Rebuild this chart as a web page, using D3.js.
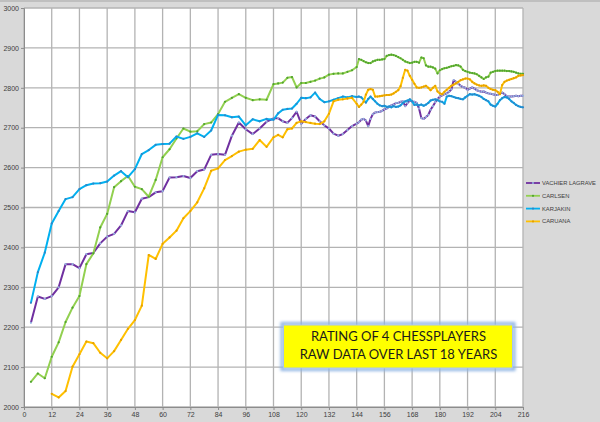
<!DOCTYPE html>
<html>
<head>
<meta charset="utf-8">
<script src="https://cdn.jsdelivr.net/npm/d3@7"></script>
<style>
    html, body { margin: 0; padding: 0; background: #d9d9d9; }
    svg { display: block; }
    .tick-label { font-family: "Liberation Sans", Arial, sans-serif; font-size: 7px; fill: #404040; }
    .legend-label { font-family: "Liberation Sans", Arial, sans-serif; font-size: 5.8px; fill: #404040; }
    .title-text { font-family: Lato, "Open Sans", sans-serif; font-size: 13px; fill: #1a1a1a; }
</style>
</head>
<body>
<div id="chart"></div>
<script>
// months since start (quarterly lists, then bi-monthly, then monthly)
const months = [
    3, 6, 9, 12, 15, 18, 21, 24, 27, 30, 33, 36, 39, 42, 45, 48, 51, 54,
    57, 60, 63, 66, 69, 72, 75, 78, 81, 84, 87, 90, 93, 96, 99, 102, 105, 108,
    110, 112, 114, 116, 118, 120, 122, 124, 126, 128, 130, 132, 134, 136, 138, 140, 142, 144,
    145, 146, 147, 148, 149, 150, 151, 152, 153, 154,
    155, 156, 157, 158, 159, 160, 161, 162, 163, 164,
    165, 166, 167, 168, 169, 170, 171, 172, 173, 174,
    175, 176, 177, 178, 179, 180, 181, 182, 183, 184,
    185, 186, 187, 188, 189, 190, 191, 192, 193, 194,
    195, 196, 197, 198, 199, 200, 201, 202, 203, 204,
    205, 206, 207, 208, 209, 210, 211, 212, 213, 214,
    215, 216
];

const vachierLagrave = [
    2211, 2277, 2271, 2278, 2300, 2358, 2358, 2348, 2383, 2386, 2410, 2427, 2434, 2455, 2491, 2488, 2522, 2526,
    2538, 2541, 2575, 2576, 2579, 2574, 2591, 2595, 2632, 2634, 2632, 2680, 2713, 2696, 2684, 2698, 2715, 2723,
    2724, 2716, 2712, 2724, 2740, 2710, 2722, 2731, 2728, 2716, 2706, 2698, 2685, 2680, 2684, 2694, 2704, 2710,
    2714, 2720, 2722, 2718, 2704, 2722, 2734, 2738, 2739, 2740,
    2742, 2746, 2748, 2752, 2756, 2758, 2762, 2762, 2765, 2766,
    2754, 2762, 2768, 2766, 2765, 2762, 2748, 2724, 2722, 2727,
    2732, 2745, 2754, 2764, 2772, 2778, 2781, 2784, 2786, 2790,
    2796, 2819, 2815, 2810, 2805, 2802, 2800, 2795, 2798, 2801,
    2798, 2794, 2792, 2790, 2791, 2788, 2786, 2785, 2784, 2782,
    2782, 2786, 2788, 2784, 2779, 2778, 2778, 2779, 2780, 2779,
    2780, 2780
];

const carlsen = [
    2063, 2084, 2072, 2126, 2162, 2213, 2249, 2278, 2358, 2385, 2450, 2484, 2551, 2566, 2579, 2552, 2546, 2527,
    2569, 2626, 2646, 2673, 2698, 2690, 2691, 2709, 2713, 2734, 2765, 2775, 2784, 2775, 2769, 2771, 2770, 2809,
    2811, 2813, 2825, 2827, 2801, 2812, 2812, 2815, 2818, 2823, 2826, 2833, 2835, 2836, 2836, 2840, 2844, 2852,
    2872, 2870, 2867, 2864, 2862, 2862, 2866, 2868, 2870, 2870,
    2871, 2872, 2880, 2882, 2883, 2882, 2880, 2877, 2874, 2870,
    2866, 2864, 2862, 2863, 2865, 2865, 2863, 2876, 2874, 2856,
    2853, 2853, 2851, 2848, 2836, 2844, 2847, 2849, 2850, 2852,
    2854, 2855, 2857, 2856, 2853, 2845, 2842, 2840, 2838, 2837,
    2836, 2834, 2830, 2826, 2822, 2826, 2828, 2838, 2840, 2842,
    2843, 2843, 2843, 2843, 2842, 2842, 2841, 2840, 2838, 2836,
    2835, 2835
];

const karjakin = [
    2261, 2338, 2387, 2460, 2491, 2521, 2526, 2546, 2556, 2560, 2561, 2565, 2580, 2591, 2576, 2596, 2634, 2644,
    2657, 2659, 2660, 2678, 2672, 2677, 2686, 2677, 2693, 2732, 2731, 2726, 2728, 2706, 2721, 2716, 2722, 2720,
    2736, 2745, 2747, 2748, 2760, 2775, 2774, 2776, 2788, 2772, 2764, 2766, 2770, 2774, 2778, 2776, 2779, 2777,
    2778, 2776, 2770, 2763, 2772, 2778, 2772, 2766, 2760, 2756,
    2754, 2755, 2752, 2753, 2751, 2754, 2752, 2753, 2756, 2762,
    2766, 2768, 2771, 2766, 2757, 2758, 2756, 2758, 2755, 2758,
    2762, 2768, 2770, 2771, 2769, 2766, 2765, 2760, 2778, 2780,
    2779, 2777, 2775, 2774, 2772, 2771, 2776, 2780, 2784, 2783,
    2784, 2782, 2780, 2777, 2772, 2769, 2766, 2758, 2755, 2753,
    2760, 2769, 2774, 2777, 2776, 2772, 2766, 2762, 2757, 2754,
    2752, 2751
];

const caruana = [
    null, null, null, 2033, 2024, 2040, 2101, 2132, 2164, 2160, 2136, 2122, 2140, 2168, 2196, 2218, 2254, 2381,
    2371, 2409, 2425, 2442, 2473, 2491, 2513, 2548, 2592, 2598, 2619, 2629, 2640, 2645, 2647, 2669, 2652, 2676,
    2682, 2676, 2696, 2698, 2712, 2716, 2714, 2712, 2710, 2709, 2716, 2735, 2766, 2770, 2771, 2773, 2775, 2760,
    2752, 2758, 2765, 2783, 2795, 2797, 2795, 2778, 2778, 2779,
    2780, 2781, 2782, 2782, 2783, 2786, 2790, 2794, 2804, 2825,
    2845, 2843, 2830, 2820, 2810, 2801, 2800, 2801, 2803, 2805,
    2800, 2794, 2800, 2805, 2791, 2786, 2784, 2790, 2795, 2800,
    2805, 2808, 2811, 2815, 2819, 2821, 2823, 2823, 2821, 2815,
    2811, 2808, 2806, 2805, 2806, 2805, 2800, 2797, 2795, 2794,
    2790, 2784, 2807, 2815, 2818, 2820, 2822, 2824, 2826, 2830,
    2831, 2832
];

const xTicks = [0, 12, 24, 36, 48, 60, 72, 84, 96, 108, 120, 132, 144, 156, 168, 180, 192, 204, 216];
const yTicks = [2000, 2100, 2200, 2300, 2400, 2500, 2600, 2700, 2800, 2900, 3000];

const seriesNames = ["VACHIER LAGRAVE", "CARLSEN", "KARJAKIN", "CARUANA"];
const seriesValues = [vachierLagrave, carlsen, karjakin, caruana];
const lineColors = ["#7030a0", "#92d050", "#00b0f0", "#ffc000"];
const markerColors = ["#95b3e0", "#4fa32f", "#2e86c8", "#e5a000"];

const titleLines = ["RATING OF 4 CHESSPLAYERS", "RAW DATA OVER LAST 18 YEARS"];

const width = 600;
const height = 422;
const plot = { left: 24, right: 523, top: 8, bottom: 407 };

const svg = d3.select("#chart")
    .append("svg")
    .attr("width", width)
    .attr("height", height);

svg.append("rect")
    .attr("width", width)
    .attr("height", height)
    .attr("fill", "#d9d9d9");

svg.append("rect")
    .attr("width", width)
    .attr("height", 2)
    .attr("fill", "#bfbfbf");

const x = d3.scaleLinear().domain([0, 216]).range([plot.left, plot.right]);
const y = d3.scaleLinear().domain([2000, 3000]).range([plot.bottom, plot.top]);

svg.append("rect")
    .attr("x", plot.left)
    .attr("y", plot.top)
    .attr("width", plot.right - plot.left)
    .attr("height", plot.bottom - plot.top)
    .attr("fill", "#ffffff");

// grid
const grid = svg.append("g").attr("class", "grid");

grid.selectAll(".vgrid")
    .data(xTicks)
    .enter()
    .append("line")
    .attr("x1", function(d) { return x(d); })
    .attr("x2", function(d) { return x(d); })
    .attr("y1", plot.top)
    .attr("y2", plot.bottom)
    .attr("stroke", "#b3b3b3")
    .attr("stroke-width", 1.3);

grid.selectAll(".hgrid")
    .data(yTicks)
    .enter()
    .append("line")
    .attr("x1", plot.left)
    .attr("x2", plot.right)
    .attr("y1", function(d) { return y(d); })
    .attr("y2", function(d) { return y(d); })
    .attr("stroke", "#b3b3b3")
    .attr("stroke-width", 1.3);

// axes
const yAxis = svg.append("g")
    .attr("transform", "translate(" + plot.left + ",0)")
    .call(d3.axisLeft(y).tickValues(yTicks).tickSize(3).tickPadding(2).tickFormat(d3.format("d")));

const xAxis = svg.append("g")
    .attr("transform", "translate(0," + plot.bottom + ")")
    .call(d3.axisBottom(x).tickValues(xTicks).tickSize(3).tickPadding(2).tickFormat(d3.format("d")));

[yAxis, xAxis].forEach(function(axis) {
    axis.select(".domain").attr("stroke", "#8c8c8c").attr("stroke-width", 1);
    axis.selectAll(".tick line").attr("stroke", "#8c8c8c");
    axis.selectAll(".tick text")
        .attr("class", "tick-label")
        .attr("fill", null)
        .attr("font-family", null)
        .attr("font-size", null);
});

// lines
const line = d3.line()
    .defined(function(d) { return d[1] !== null; })
    .x(function(d) { return x(d[0]); })
    .y(function(d) { return y(d[1]); });

seriesValues.forEach(function(values, i) {
    const points = months.map(function(m, j) {
        return [m, values[j]];
    });

    svg.append("path")
        .datum(points)
        .attr("fill", "none")
        .attr("stroke", lineColors[i])
        .attr("stroke-width", 2)
        .attr("stroke-linejoin", "round")
        .attr("d", line);

    svg.append("g")
        .selectAll("circle")
        .data(points.filter(function(d) { return d[1] !== null; }))
        .enter()
        .append("circle")
        .attr("cx", function(d) { return x(d[0]); })
        .attr("cy", function(d) { return y(d[1]); })
        .attr("r", 1.1)
        .attr("fill", markerColors[i]);
});

// legend
const legend = svg.append("g").attr("transform", "translate(526,183)");

seriesNames.forEach(function(name, i) {
    const row = legend.append("g").attr("transform", "translate(0," + (i * 12.8) + ")");

    row.append("line")
        .attr("x1", 0)
        .attr("x2", 14)
        .attr("stroke", lineColors[i])
        .attr("stroke-width", 1.8);

    row.append("circle")
        .attr("cx", 7)
        .attr("r", 1.1)
        .attr("fill", markerColors[i]);

    row.append("text")
        .attr("class", "legend-label")
        .attr("x", 16)
        .attr("dy", "0.35em")
        .text(name);
});

// title box
const defs = svg.append("defs");
const glow = defs.append("filter")
    .attr("id", "glow")
    .attr("x", "-10%")
    .attr("y", "-20%")
    .attr("width", "120%")
    .attr("height", "140%");
glow.append("feGaussianBlur").attr("stdDeviation", 1.5);

svg.append("rect")
    .attr("x", 282)
    .attr("y", 323.5)
    .attr("width", 232)
    .attr("height", 46)
    .attr("fill", "none")
    .attr("stroke", "#8eb4e3")
    .attr("stroke-width", 3)
    .attr("filter", "url(#glow)");

svg.append("rect")
    .attr("x", 283.5)
    .attr("y", 325)
    .attr("width", 229)
    .attr("height", 43)
    .attr("fill", "#ffff00")
    .attr("stroke", "#a9c4ea")
    .attr("stroke-width", 1);

svg.selectAll(".title-text")
    .data(titleLines)
    .enter()
    .append("text")
    .attr("class", "title-text")
    .attr("x", 398.5)
    .attr("y", function(d, i) { return 341 + i * 18.3; })
    .attr("text-anchor", "middle")
    .text(function(d) { return d; });
</script>
</body>
</html>
